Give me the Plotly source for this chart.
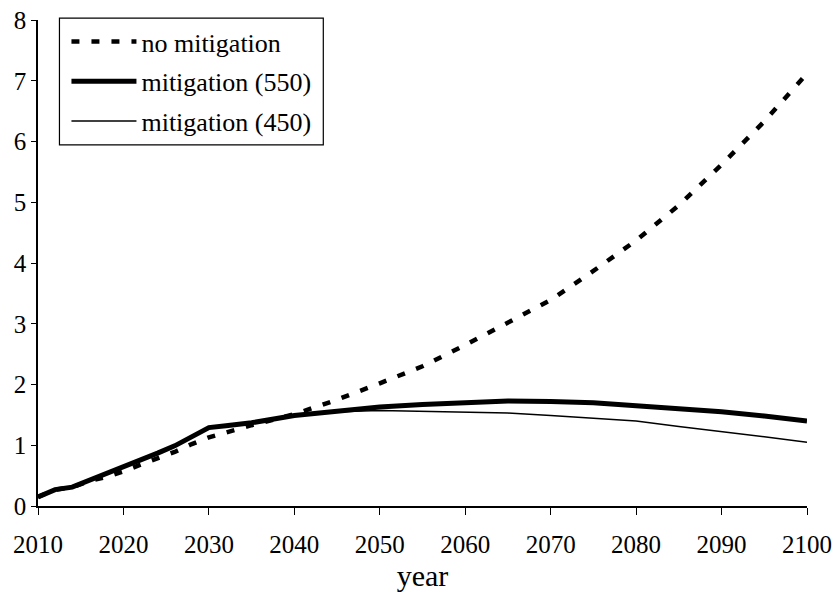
import plotly.graph_objects as go

# Years sampled along each scenario curve
years = [2010, 2012, 2014, 2016, 2018, 2020, 2022, 2024, 2026, 2028, 2030,
         2032, 2035, 2040, 2045, 2050, 2055, 2060, 2065, 2070, 2075, 2080,
         2085, 2090, 2095, 2100]

no_mitigation = [0.15, 0.27, 0.31, 0.41, 0.48, 0.57, 0.68, 0.79, 0.89, 1.02, 1.13,
                 1.21, 1.33, 1.51, 1.75, 2.02, 2.30, 2.65, 3.02, 3.39, 3.87, 4.37,
                 4.95, 5.62, 6.33, 7.12]

mitigation_550 = [0.15, 0.27, 0.31, 0.42, 0.52, 0.63, 0.75, 0.87, 0.99, 1.13, 1.29,
                  1.32, 1.37, 1.49, 1.56, 1.63, 1.67, 1.70, 1.73, 1.72, 1.70, 1.65,
                  1.61, 1.55, 1.48, 1.40]

mitigation_450 = [0.15, 0.27, 0.31, 0.42, 0.52, 0.63, 0.75, 0.87, 0.99, 1.13, 1.29,
                  1.32, 1.37, 1.48, 1.55, 1.57, 1.56, 1.55, 1.53, 1.49, 1.44, 1.40,
                  1.31, 1.23, 1.14, 1.05]

x_ticks = [2010, 2020, 2030, 2040, 2050, 2060, 2070, 2080, 2090, 2100]
y_ticks = [0, 1, 2, 3, 4, 5, 6, 7, 8]

FONT = "Liberation Serif"

fig = go.Figure()
fig.add_trace(go.Scatter(
    x=years, y=no_mitigation, mode="lines", name="no mitigation",
    line=dict(color="black", width=4.5, dash="8px,12px"),
    legendgroup="a"))
fig.add_trace(go.Scatter(
    x=years, y=mitigation_550, mode="lines", name="mitigation (550)",
    line=dict(color="black", width=5),
    legendgroup="b"))
fig.add_trace(go.Scatter(
    x=years, y=mitigation_450, mode="lines", name="mitigation (450)",
    line=dict(color="black", width=1.5),
    legendgroup="c"))

fig.update_layout(
    width=835, height=592,
    margin=dict(l=37.5, r=28, t=20, b=86),
    paper_bgcolor="white", plot_bgcolor="white",
    font=dict(family=FONT, size=25, color="black"),
    showlegend=True,
    legend=dict(
        x=0.037, y=1.004, xanchor="left", yanchor="top",
        borderwidth=0, bgcolor="rgba(255,255,255,0)",
        font=dict(family=FONT, size=26, color="black"),
        itemwidth=65, traceorder="grouped", tracegroupgap=3,
    ),
    # frame around the legend, with a little more room than the legend's own border
    shapes=[dict(
        type="rect", xref="paper", yref="paper",
        x0=0.0279, x1=0.371, y0=0.743, y1=1.004,
        line=dict(color="black", width=1.2), fillcolor="white", layer="below",
    )],
    xaxis=dict(
        range=[2010, 2100], tickvals=x_ticks, ticktext=[str(v) for v in x_ticks],
        showgrid=False, zeroline=False, showline=True, linecolor="black",
        linewidth=1.5, ticks="outside", ticklen=7, tickwidth=1.3,
        tickcolor="black", title=dict(text="year", standoff=16),
        tickfont=dict(family=FONT, size=25), ticklabelstandoff=8,
        automargin=False,
    ),
    yaxis=dict(
        range=[0, 8], tickvals=y_ticks, ticktext=[str(v) for v in y_ticks],
        showgrid=False, zeroline=False, showline=True, linecolor="black",
        linewidth=1.5, ticks="outside", ticklen=5, tickwidth=1.3,
        tickcolor="black", tickfont=dict(family=FONT, size=25),
        automargin=False,
    ),
)

fig.write_html("out.html")
